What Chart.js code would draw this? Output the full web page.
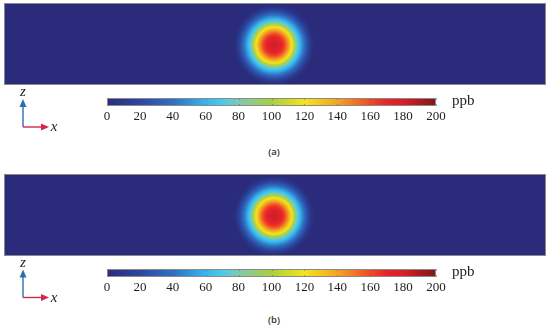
<!DOCTYPE html>
<html>
<head>
<meta charset="utf-8">
<script src="https://cdn.jsdelivr.net/npm/chart.js@4.4.1/dist/chart.umd.min.js"></script>
<style>
  html, body { margin: 0; padding: 0; background: #fff; }
  body { width: 550px; height: 328px; position: relative; overflow: hidden; }
  canvas, .lbl, svg { position: absolute; }
  .lbl { font-family: "Liberation Serif", serif; color: #1e1e1e; line-height: 1; white-space: nowrap; }
  .axis-name { font-style: italic; font-size: 15px; transform: translate(-50%, -50%); }
  .unit { font-size: 15px; }
  .caption { font-family: "Open Sans", sans-serif; font-size: 9.5px; font-weight: 600; color: #333; transform: translate(-50%, -50%); }
</style>
</head>
<body>
<script>
// two panels, same field
const captions = ["(a)", "(b)"];
const panelOffsets = [0, 170.5];

// field extent (arbitrary length units, ~1 px each)
const fieldX = [-270, 270];
const fieldZ = [-41, 41];
const backgroundLevel = [0, 0];

// plume centre per panel
const blobX = [-1, -1];
const blobZ = [-1, -1];

// radial profile: distance from centre -> ppb
const profileRadius = [0, 2, 4, 6, 8, 10, 12, 14, 16, 18, 20, 22, 24, 26, 28, 30, 32, 34, 36, 38, 40];
const profileA = [183, 181, 178, 175, 170, 164, 155, 144, 132, 120, 104, 86, 70, 60, 50, 40, 30, 20, 11, 5, 0];
const profileB = [183, 181, 178, 175, 170, 164, 155, 144, 132, 120, 104, 86, 70, 60, 50, 40, 30, 20, 11, 5, 0];
const profiles = [profileA, profileB];

// colour bar
const colorbarTicks = [0, 20, 40, 60, 80, 100, 120, 140, 160, 180, 200];
const colorbarUnit = "ppb";

// colormap (as printed, a washed-out jet)
const cmapValues = [0, 20, 40, 60, 70, 80, 100, 120, 140, 160, 170, 180, 200];
const cmapColors = ["#2a2b7b", "#2b47a0", "#2f6fc2", "#36b6ec", "#4cc8ea", "#7ec9b2", "#aacf3e", "#f3e51c",
  "#f5a424", "#ef4b24", "#e8232b", "#d81f2a", "#801717"];

function hexToRgb(h) {
  const n = parseInt(h.slice(1), 16);
  return [(n >> 16) & 255, (n >> 8) & 255, n & 255];
}

function colorFor(v) {
  const vmin = cmapValues[0];
  const vmax = cmapValues[cmapValues.length - 1];
  v = Math.max(vmin, Math.min(vmax, v));
  for (let i = 1; i < cmapValues.length; i++) {
    if (v <= cmapValues[i]) {
      const t = (v - cmapValues[i - 1]) / (cmapValues[i] - cmapValues[i - 1]);
      const a = hexToRgb(cmapColors[i - 1]);
      const b = hexToRgb(cmapColors[i]);
      const c = a.map((x, k) => Math.round(x + (b[k] - x) * t));
      return `rgb(${c[0]}, ${c[1]}, ${c[2]})`;
    }
  }
  return cmapColors[cmapColors.length - 1];
}

function place(el, left, top, w, h) {
  el.style.left = left + "px";
  el.style.top = top + "px";
  if (w != null) {
    el.style.width = w + "px";
    el.style.height = h + "px";
  }
  document.body.appendChild(el);
  return el;
}

function makeCanvas(left, top, w, h) {
  const c = document.createElement("canvas");
  c.width = w;
  c.height = h;
  return place(c, left, top, w, h);
}

function makeLabel(text, cls, left, top) {
  const d = document.createElement("div");
  d.className = "lbl " + cls;
  d.textContent = text;
  return place(d, left, top);
}

const fieldBackground = {
  id: "fieldBackground",
  beforeDatasetsDraw(chart, args, opts) {
    const { ctx, chartArea: a } = chart;
    ctx.save();
    ctx.fillStyle = colorFor(opts.level);
    ctx.fillRect(a.left, a.top, a.width, a.height);
    ctx.restore();
  },
  afterDraw(chart) {
    const { ctx, chartArea: a } = chart;
    ctx.save();
    ctx.strokeStyle = "#8a8a8a";
    ctx.lineWidth = 1;
    ctx.strokeRect(a.left + 0.5, a.top + 0.5, a.width - 1, a.height - 1);
    ctx.restore();
  },
};

const colorbarFrame = {
  id: "colorbarFrame",
  afterDatasetsDraw(chart) {
    const { ctx, chartArea: a } = chart;
    const xs = chart.scales.x;
    ctx.save();
    ctx.strokeStyle = "rgba(60, 60, 60, 0.45)";
    ctx.lineWidth = 1;
    colorbarTicks.forEach((v) => {
      const px = Math.round(xs.getPixelForValue(v)) + 0.5;
      ctx.beginPath();
      ctx.moveTo(px, a.top);
      ctx.lineTo(px, a.top + 2);
      ctx.moveTo(px, a.bottom);
      ctx.lineTo(px, a.bottom - 2);
      ctx.stroke();
    });
    ctx.strokeStyle = "#8a8a8a";
    ctx.strokeRect(a.left + 0.5, a.top + 0.5, a.width - 1, a.height - 1);
    ctx.restore();
  },
};

function drawField(canvas, i) {
  const profile = profiles[i];
  const outerR = profileRadius[profileRadius.length - 1];

  const pixelRadius = (chart, x) => {
    const xs = chart.scales.x;
    return Math.abs(xs.getPixelForValue(x + outerR) - xs.getPixelForValue(x));
  };

  new Chart(canvas, {
    type: "scatter",
    data: {
      datasets: [
        {
          data: [{ x: blobX[i], y: blobZ[i] }],
          pointStyle: "circle",
          pointBorderWidth: 0,
          pointRadius: (ctx) => (ctx.chart.chartArea ? pixelRadius(ctx.chart, blobX[i]) : 0),
          pointBackgroundColor: (ctx) => {
            const chart = ctx.chart;
            if (!chart.chartArea || !ctx.raw) return colorFor(backgroundLevel[i]);
            const px = chart.scales.x.getPixelForValue(ctx.raw.x);
            const py = chart.scales.y.getPixelForValue(ctx.raw.y);
            const rp = pixelRadius(chart, ctx.raw.x);
            const g = chart.ctx.createRadialGradient(px, py, 0, px, py, rp);
            profileRadius.forEach((r, k) => g.addColorStop(r / outerR, colorFor(profile[k])));
            return g;
          },
        },
      ],
    },
    options: {
      responsive: false,
      animation: false,
      events: [],
      layout: { padding: 0 },
      plugins: {
        legend: { display: false },
        tooltip: { enabled: false },
        fieldBackground: { level: backgroundLevel[i] },
      },
      scales: {
        x: { type: "linear", min: fieldX[0], max: fieldX[1], display: false },
        y: { type: "linear", min: fieldZ[0], max: fieldZ[1], display: false },
      },
    },
    plugins: [fieldBackground],
  });
}

function drawColorbar(canvas) {
  const cbMin = colorbarTicks[0];
  const cbMax = colorbarTicks[colorbarTicks.length - 1];

  new Chart(canvas, {
    type: "bar",
    data: {
      labels: [colorbarUnit],
      datasets: [
        {
          data: [[cbMin, cbMax]],
          borderWidth: 0,
          barPercentage: 1,
          categoryPercentage: 1,
          backgroundColor: (ctx) => {
            const chart = ctx.chart;
            if (!chart.chartArea) return colorFor(cbMin);
            const xs = chart.scales.x;
            const x0 = xs.getPixelForValue(cbMin);
            const x1 = xs.getPixelForValue(cbMax);
            const g = chart.ctx.createLinearGradient(x0, 0, x1, 0);
            cmapValues.forEach((v, k) => g.addColorStop((v - cbMin) / (cbMax - cbMin), cmapColors[k]));
            return g;
          },
        },
      ],
    },
    options: {
      indexAxis: "y",
      responsive: false,
      animation: false,
      events: [],
      layout: { padding: { left: 17, right: 25, top: 0, bottom: 0 } },
      plugins: { legend: { display: false }, tooltip: { enabled: false } },
      scales: {
        x: {
          type: "linear",
          min: cbMin,
          max: cbMax,
          afterBuildTicks: (s) => {
            s.ticks = colorbarTicks.map((v) => ({ value: v }));
          },
          afterFit: (s) => {
            s.height = 20;
          },
          grid: { display: false, drawTicks: false },
          border: { display: false },
          ticks: {
            autoSkip: false,
            maxRotation: 0,
            padding: 3,
            color: "#1e1e1e",
            font: { family: "Liberation Serif", size: 13 },
          },
        },
        y: { display: false },
      },
    },
    plugins: [colorbarFrame],
  });
}

function drawAxisGlyph(svg, dy) {
  const ns = "http://www.w3.org/2000/svg";
  const add = (tag, attrs) => {
    const e = document.createElementNS(ns, tag);
    Object.entries(attrs).forEach(([k, v]) => e.setAttribute(k, v));
    svg.appendChild(e);
  };
  const ox = 23, oy = 127 + dy;
  add("line", { x1: ox, y1: oy, x2: ox, y2: oy - 22, stroke: "#2f6db3", "stroke-width": 1.4 });
  add("polygon", { points: `${ox},${oy - 28} ${ox - 3.5},${oy - 20} ${ox + 3.5},${oy - 20}`, fill: "#2f6db3" });
  add("line", { x1: ox, y1: oy, x2: ox + 19, y2: oy, stroke: "#d42450", "stroke-width": 1.4 });
  add("polygon", { points: `${ox + 26},${oy} ${ox + 18},${oy - 3.5} ${ox + 18},${oy + 3.5}`, fill: "#d42450" });
}

const svg = document.createElementNS("http://www.w3.org/2000/svg", "svg");
svg.setAttribute("width", 550);
svg.setAttribute("height", 328);
place(svg, 0, 0);

captions.forEach((cap, i) => {
  const dy = panelOffsets[i];
  drawField(makeCanvas(4, 3 + dy, 542, 82), i);
  drawColorbar(makeCanvas(90, 98 + dy, 371, 28));
  makeLabel(colorbarUnit, "unit", 452, 93 + dy);
  makeLabel("z", "axis-name", 23, 91 + dy);
  makeLabel("x", "axis-name", 54, 126 + dy);
  drawAxisGlyph(svg, dy);
  makeLabel(cap, "caption", 274, 152 + dy * 0.985);
});
</script>
</body>
</html>
